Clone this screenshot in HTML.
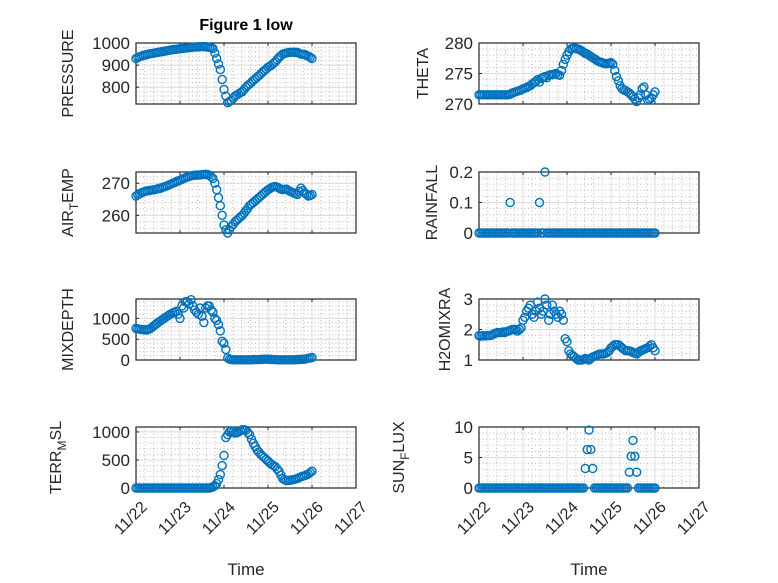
<!DOCTYPE html>
<html><head><meta charset="utf-8"><style>
html,body{margin:0;padding:0;background:#fff;}
svg{display:block;font-family:"Liberation Sans",sans-serif;}
</style></head><body>
<svg id="fig" width="778" height="583" viewBox="0 0 778 583" xmlns="http://www.w3.org/2000/svg">
<rect x="0" y="0" width="778" height="583" fill="#fff"/>
<text x="246" y="30" text-anchor="middle" font-size="16" font-weight="bold" fill="#000">Figure 1 low</text>
</svg>
<script>
// time in hours since 11/22 00:00, hourly samples
const hours = [];
for (let h = 0; h <= 96; h += 1) hours.push(h);
const dayTickLabels = ["11/22","11/23","11/24","11/25","11/26","11/27"];

const pressure = [930,934,938,941,944,946,948,950,952,953,955,956,958,959,961,962,964,965,967,968,970,971,972,973,974,975,976,977,978,979,980,981,982,982,983,983,984,984,983,982,980,978,975,955,930,905,880,835,790,760,730,735,740,750,760,765,770,775,780,790,800,808,815,822,830,838,845,852,860,868,875,882,890,895,900,908,915,925,935,942,950,952,955,956,958,958,958,958,957,954,950,949,948,944,940,935,930];
const airTemp = [266,266.4,266.8,267,267.3,267.5,267.6,267.7,267.8,267.9,268,268.1,268.3,268.4,268.6,268.8,269,269.2,269.5,269.7,270,270.2,270.5,270.7,271,271.2,271.5,271.7,272,272.1,272.3,272.4,272.5,272.5,272.6,272.6,272.7,272.7,272.8,272.7,272.5,272,271.5,270,268,265.5,263,260,257,255.5,254.5,255.5,256.5,257.2,258,258.5,259,259.5,260,260.7,261.5,262.2,263,263.5,264,264.5,265,265.5,266,266.5,267,267.5,268,268.3,268.7,268.9,269,268.8,268.5,268.2,268,268.1,268.2,267.8,267.5,267.2,267,266.7,266.5,267.5,268.5,267.7,267,266.5,266,266.2,266.5];
const mixDepth = [760,750,740,735,730,725,720,740,760,795,830,865,900,930,960,990,1020,1050,1080,1105,1130,1150,1170,1100,1000,1300,1250,1400,1400,1350,1450,1300,1200,1150,1100,1250,1050,900,1250,1300,1300,1200,1150,1000,950,850,700,450,400,250,50,20,10,5,5,5,5,5,5,5,5,5,5,5,10,10,10,10,15,15,20,20,20,15,15,10,10,5,5,5,5,5,5,5,5,5,5,5,10,12,15,18,20,30,40,50,60];
const terrMsl = [0,0,0,0,0,0,0,0,0,0,0,0,0,0,0,0,0,0,0,0,0,0,0,0,0,0,0,0,0,0,0,0,0,0,0,0,0,0,0,0,0,10,20,40,80,150,240,400,580,900,950,1000,1020,1000,980,990,1000,1020,1040,1040,1030,990,950,870,800,740,680,640,600,570,540,510,480,450,420,400,380,340,300,230,170,150,130,135,140,145,150,160,170,185,200,210,220,235,250,275,300];
const theta = [271.5,271.5,271.5,271.5,271.5,271.5,271.5,271.5,271.5,271.5,271.5,271.5,271.5,271.5,271.5,271.5,271.5,271.6,271.8,271.9,272,272.1,272.2,272.3,272.5,272.6,272.7,272.9,273,273.3,273.5,273.7,274,273.6,274.2,274.4,274.5,274.3,274.7,274.8,274.8,274.9,275,274.8,274.7,275.5,276.5,277.3,278,278.6,279,279.1,279.2,279.1,279,278.9,278.7,278.5,278.3,278.2,278,277.8,277.6,277.4,277.2,277,276.9,276.8,276.7,276.6,276.6,276.7,276.8,276.5,275.5,274.5,273.8,273,272.5,272.3,272.2,272,271.8,271.5,271.2,270.8,270.4,271,271.5,272.5,272.8,271.5,270.6,270.8,271,271.5,272];
const rainfall = [0,0,0,0,0,0,0,0,0,0,0,0,0,0,0,0,0,0.1,0,0,0,0,0,0,0,0,0,0,0,0,0,0,0,0.1,0,0,0.2,0,0,0,0,0,0,0,0,0,0,0,0,0,0,0,0,0,0,0,0,0,0,0,0,0,0,0,0,0,0,0,0,0,0,0,0,0,0,0,0,0,0,0,0,0,0,0,0,0,0,0,0,0,0,0,0,0,0,0,0];
const h2oMix = [1.8,1.78,1.8,1.79,1.8,1.8,1.8,1.82,1.85,1.88,1.9,1.9,1.9,1.92,1.9,1.93,1.95,1.97,2.0,2.0,2.0,1.95,2.0,2.05,2.3,2.4,2.6,2.7,2.8,2.5,2.4,2.6,2.9,2.7,2.5,2.6,3.0,2.8,2.3,2.5,2.8,2.6,2.5,2.4,2.6,2.5,2.3,1.7,1.6,1.3,1.2,1.15,1.1,1.05,1.0,1.0,1.0,1.02,1.05,1.03,1.0,1.05,1.1,1.12,1.15,1.18,1.2,1.2,1.2,1.22,1.25,1.3,1.4,1.45,1.5,1.5,1.5,1.45,1.4,1.35,1.3,1.3,1.3,1.28,1.25,1.22,1.2,1.25,1.3,1.32,1.35,1.38,1.4,1.45,1.5,1.4,1.3];
const sunFlux = [0,0,0,0,0,0,0,0,0,0,0,0,0,0,0,0,0,0,0,0,0,0,0,0,0,0,0,0,0,0,0,0,0,0,0,0,0,0,0,0,0,0,0,0,0,0,0,0,0,0,0,0,0,0,0,0,0,0,3.2,6.3,9.5,6.3,3.2,0,0,0,0,0,0,0,0,0,0,0,0,0,0,0,0,0,0,0,2.6,5.2,7.8,5.2,2.6,0,0,0,0,0,0,0,0,0,0];

const pressureTicks = [800,900,1000];
const airTempTicks = [260,270];
const mixDepthTicks = [0,500,1000];
const terrTicks = [0,500,1000];
const thetaTicks = [270,275,280];
const rainTicks = [0,0.1,0.2];
const h2oTicks = [1,2,3];
const sunTicks = [0,5,10];

const NS = "http://www.w3.org/2000/svg";
const svg = document.getElementById("fig");
function mk(tag, attrs, parent){
  const e = document.createElementNS(NS, tag);
  for (const k in attrs) e.setAttribute(k, attrs[k]);
  (parent||svg).appendChild(e);
  return e;
}

const panels = [
  {key:"pressure", data:pressure, ticks:pressureTicks, ymin:724, ymax:1000, left:136, top:43, label:[["PRESSURE",""]], lx:73},
  {key:"air-temp", data:airTemp, ticks:airTempTicks, ymin:254.5, ymax:273.5, left:136, top:172, label:[["AIR",""],["T","sub"],["EMP",""]], lx:73},
  {key:"mix-depth", data:mixDepth, ticks:mixDepthTicks, ymin:0, ymax:1466, left:136, top:299, label:[["MIXDEPTH",""]], lx:73},
  {key:"terr-msl", data:terrMsl, ticks:terrTicks, ymin:0, ymax:1088, left:136, top:427, label:[["TERR",""],["M","sub"],["SL",""]], lx:61, xt:true},
  {key:"theta", data:theta, ticks:thetaTicks, ymin:270, ymax:280, left:479, top:43, label:[["THETA",""]], lx:428},
  {key:"rainfall", data:rainfall, ticks:rainTicks, ymin:0, ymax:0.2, left:479, top:172, label:[["RAINFALL",""]], lx:437},
  {key:"h2o-mix", data:h2oMix, ticks:h2oTicks, ymin:1, ymax:3, left:479, top:299, label:[["H2OMIXRA",""]], lx:450},
  {key:"sun-flux", data:sunFlux, ticks:sunTicks, ymin:0, ymax:10, left:479, top:427, label:[["SUN",""],["F","sub"],["LUX",""]], lx:404, xt:true}
];
const W = 220, H = 61;

panels.forEach(p => {
  const g = mk("g", {});
  
  
  const xs = h => p.left + h / 24 * (W / 5);
  const ys = v => p.top + H - (v - p.ymin) / (p.ymax - p.ymin) * H;
  for (let d = 0; d < 5; d++) for (let m = 1; m < 5; m++) {
    const x = xs((d + m / 5) * 24);
    const l = mk("line", {x1:x, x2:x, y1:p.top, y2:p.top+H, stroke:"#bbb", "stroke-width":1, "stroke-dasharray":"1 2.5"}, g);
    
    
  }
  const step = p.ticks[1] - p.ticks[0];
  for (let v = p.ticks[0] - step; v <= p.ymax + step; v += step / 5) {
    if (v < p.ymin || v > p.ymax) continue;
    const y = ys(v);
    const l = mk("line", {x1:p.left, x2:p.left+W, y1:y, y2:y, stroke:"#bbb", "stroke-width":1, "stroke-dasharray":"1 2.5"}, g);
    
    
  }
  for (let d = 1; d < 5; d++) {
    const x = xs(d * 24);
    const l = mk("line", {x1:x, x2:x, y1:p.top, y2:p.top+H, stroke:"#dcdcdc", "stroke-width":1}, g);
    
    
  }
  p.ticks.forEach(v => {
    const y = ys(v);
    const l = mk("line", {x1:p.left, x2:p.left+W, y1:y, y2:y, stroke:"#dcdcdc", "stroke-width":1}, g);
    
    
    const t = mk("text", {x:p.left-6, y:y+6, "text-anchor":"end", "font-size":17, fill:"#262626"}, g);
    t.textContent = String(v);
    
    
    const tk = mk("line", {x1:p.left, x2:p.left+3, y1:y, y2:y, stroke:"#262626", "stroke-width":1}, g);
    
    
  });
  for (let d = 0; d <= 5; d++) {
    const x = xs(d * 24);
    const tk = mk("line", {x1:x, x2:x, y1:p.top+H, y2:p.top+H-3, stroke:"#262626", "stroke-width":1}, g);
    
    
    const tk2 = mk("line", {x1:x, x2:x, y1:p.top, y2:p.top+3, stroke:"#262626", "stroke-width":1}, g);
    
    
    if (p.xt) {
      const ax = x + 12, ay = p.top + H + 20;
      const t = mk("text", {x:ax, y:ay, "text-anchor":"end", "font-size":16, fill:"#262626", transform:"rotate(-45 " + ax + " " + ay + ")"}, g);
      t.textContent = dayTickLabels[d];
      
      
    }
  }
  const box = mk("rect", {x:p.left, y:p.top, width:W, height:H, fill:"none", stroke:"#262626", "stroke-width":1.2}, g);
  
  
  const mg = mk("g", {fill:"none", stroke:"#0072BD", "stroke-width":1.4}, g);
  
  
  p.data.forEach((v, i) => {
    const c = mk("circle", {cx:xs(hours[i]), cy:ys(v), r:4}, mg);
    
    
  });
  const cy = p.top + H / 2;
  const yl = mk("text", {x:p.lx, y:cy, "text-anchor":"middle", "font-size":16, fill:"#262626", transform:"rotate(-90 " + p.lx + " " + cy + ")"}, g);
  
  
  p.label.forEach(([s, kind]) => {
    const ts = mk("tspan", kind === "sub" ? {"font-size":12, dy:5} : {dy: yl.childNodes.length && yl.lastChild.getAttribute("font-size") ? -5 : 0}, yl);
    ts.textContent = s;
  });
  if (p.xt) {
    const tl = mk("text", {x:p.left + W/2, y:575, "text-anchor":"middle", "font-size":17, fill:"#262626"}, g);
    tl.textContent = "Time";
    
    
  }
});
</script>
</body></html>
